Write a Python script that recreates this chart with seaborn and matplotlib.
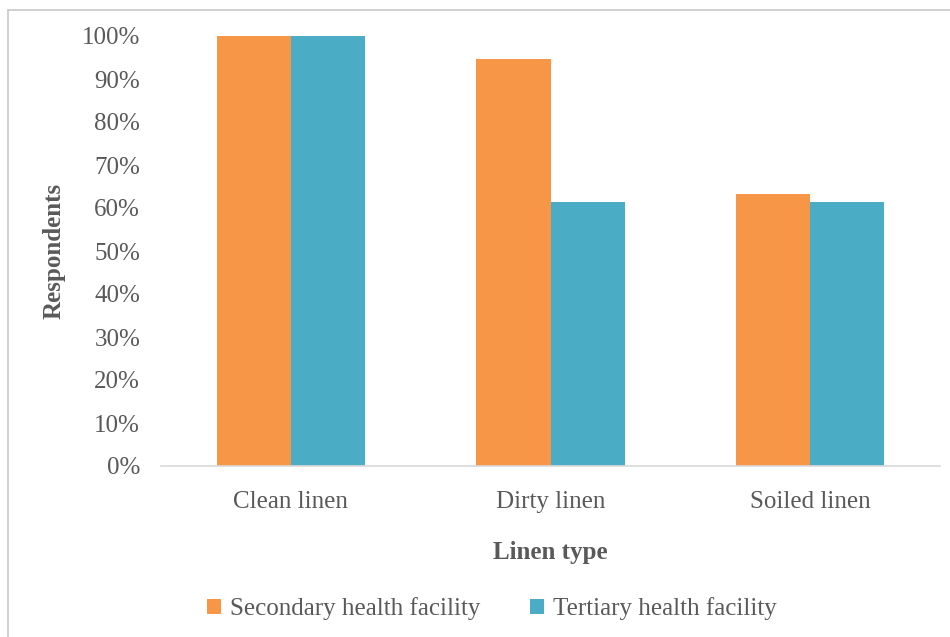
import pandas as pd
import matplotlib.pyplot as plt
import seaborn as sns
from matplotlib.lines import Line2D
from matplotlib.ticker import PercentFormatter

# Data
linen_types = ['Clean linen', 'Dirty linen', 'Soiled linen']
secondary = [100.0, 94.7, 63.2]
tertiary = [100.0, 61.5, 61.5]
facilities = ['Secondary health facility', 'Tertiary health facility']
colors = ['#F79646', '#4BACC6']

df = pd.DataFrame({
    'Linen type': linen_types * 2,
    'Facility': [facilities[0]] * 3 + [facilities[1]] * 3,
    'Respondents': [v / 100 for v in secondary + tertiary],
})

sns.set_style('white')
plt.rcParams['font.family'] = ['Liberation Serif', 'DejaVu Serif']
grey = '#595959'

fig = plt.figure(figsize=(9.5, 6.37), dpi=100)
ax = fig.add_axes([161 / 950, 1 - 466 / 637, (940 - 161) / 950, (466 - 36) / 637])

sns.barplot(data=df, x='Linen type', y='Respondents', hue='Facility',
            palette=colors, width=0.57, saturation=1, linewidth=0,
            ax=ax, legend=True)

ax.set_ylim(0, 1)
ax.set_xlim(-0.5, 2.5)
ax.set_yticks([i / 10 for i in range(11)])
ax.yaxis.set_major_formatter(PercentFormatter(1.0, decimals=0))
ax.tick_params(axis='y', length=0, pad=15, labelsize=18, labelcolor=grey)
ax.tick_params(axis='x', length=0, pad=18, labelsize=18, labelcolor=grey)

for side in ['top', 'right', 'left']:
    ax.spines[side].set_visible(False)
ax.spines['bottom'].set_color('#D9D9D9')
ax.spines['bottom'].set_linewidth(1.2)

ax.set_xlabel('Linen type', fontsize=18, fontweight='bold', color=grey, labelpad=20)
ax.set_ylabel('Respondents', fontsize=18, fontweight='bold', color=grey, labelpad=12)

# Legend below the axes
handles, labels = ax.get_legend_handles_labels()
ax.get_legend().remove()
fig.legend(handles, labels, loc='center', bbox_to_anchor=(492 / 950, 1 - 609 / 637),
           ncol=2, frameon=False, fontsize=18, labelcolor=grey,
           handlelength=0.55, handleheight=0.55, handletextpad=0.35, columnspacing=2.0)

# Chart area border (runs off the right and bottom edges)
fig.add_artist(Line2D([8 / 950, 1.0], [1 - 10 / 637] * 2, color='#C8C8C8', lw=1.2))
fig.add_artist(Line2D([8 / 950] * 2, [0.0, 1 - 10 / 637], color='#C8C8C8', lw=1.2))

fig.savefig('out.png', dpi=100)
